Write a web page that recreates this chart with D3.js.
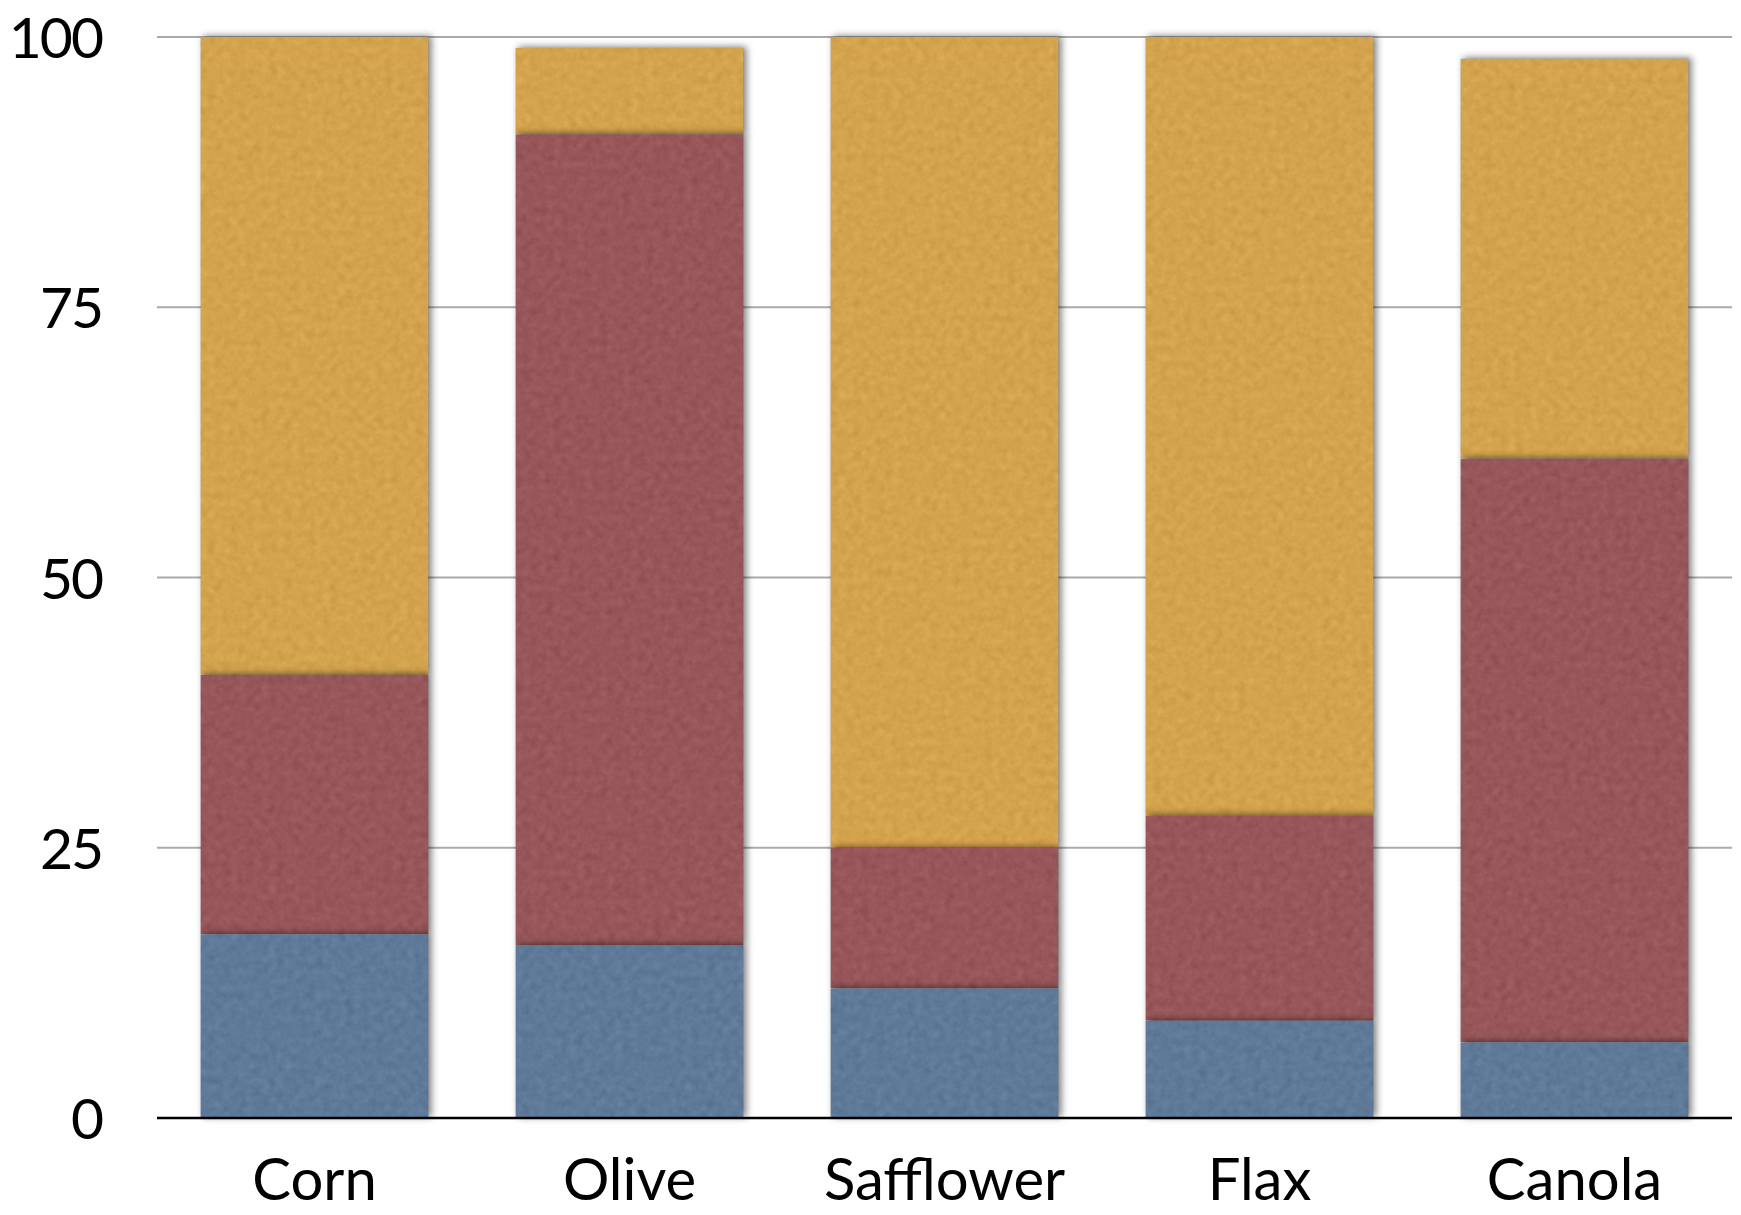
<!DOCTYPE html>
<html>
<head>
<meta charset="utf-8">
<script src="https://cdn.jsdelivr.net/npm/d3@7"></script>
<style>
  html, body { margin: 0; padding: 0; background: #fff; }
  svg { display: block; }
  text { font-family: Lato, "Open Sans", sans-serif; fill: #000; }
</style>
</head>
<body>
<svg id="chart" width="1741" height="1215"></svg>
<script>
// Fatty acid composition of cooking oils (percent)
const categories = ["Corn", "Olive", "Safflower", "Flax", "Canola"];
const saturated       = [17, 16, 12, 9, 7];
const monounsaturated = [24, 75, 13, 19, 54];
const polyunsaturated = [59, 8, 75, 72, 37];
const seriesNames = ["saturated", "monounsaturated", "polyunsaturated"];
const seriesColors = ["#5f7a99", "#97575a", "#d4a34d"];
const yTicks = [0, 25, 50, 75, 100];

const rows = categories.map((c, i) => ({
  category: c,
  saturated: saturated[i],
  monounsaturated: monounsaturated[i],
  polyunsaturated: polyunsaturated[i]
}));

const W = 1741, H = 1215;
const margin = { left: 157, right: 9, top: 37, bottom: 97 };

const svg = d3.select("#chart");

const x = d3.scaleBand()
  .domain(categories)
  .range([margin.left, W - margin.right])
  .paddingInner(0.276)
  .paddingOuter(0.138);

const y = d3.scaleLinear()
  .domain([0, 100])
  .range([H - margin.bottom, margin.top]);

// Paper-like texture plus soft shadow for each bar segment
const defs = svg.append("defs");
const f = defs.append("filter")
  .attr("id", "seg")
  .attr("filterUnits", "userSpaceOnUse")
  .attr("x", 0).attr("y", 0).attr("width", W).attr("height", H)
  .attr("color-interpolation-filters", "sRGB");
f.append("feTurbulence")
  .attr("type", "fractalNoise").attr("baseFrequency", 0.13)
  .attr("numOctaves", 3).attr("seed", 7).attr("result", "noise");
f.append("feColorMatrix")
  .attr("in", "noise").attr("type", "matrix")
  .attr("values", "0.33 0.33 0.33 0 0  0.33 0.33 0.33 0 0  0.33 0.33 0.33 0 0  0 0 0 0 1")
  .attr("result", "gray");
f.append("feGaussianBlur")
  .attr("in", "gray").attr("stdDeviation", 0.6).attr("result", "graySoft");
f.append("feComposite")
  .attr("in", "SourceGraphic").attr("in2", "graySoft")
  .attr("operator", "arithmetic")
  .attr("k1", 0).attr("k2", 1).attr("k3", 0.16).attr("k4", -0.08)
  .attr("result", "tex");
f.append("feComposite")
  .attr("in", "tex").attr("in2", "SourceGraphic")
  .attr("operator", "in").attr("result", "texClip");
f.append("feGaussianBlur")
  .attr("in", "SourceAlpha").attr("stdDeviation", 3.5).attr("result", "blur");
f.append("feOffset")
  .attr("in", "blur").attr("dx", 2.5).attr("dy", -1.5).attr("result", "off");
f.append("feFlood")
  .attr("flood-color", "#000").attr("flood-opacity", 0.5).attr("result", "flood");
f.append("feComposite")
  .attr("in", "flood").attr("in2", "off").attr("operator", "in").attr("result", "shadow");
const merge = f.append("feMerge");
merge.append("feMergeNode").attr("in", "shadow");
merge.append("feMergeNode").attr("in", "texClip");

// Gridlines
svg.append("g")
  .selectAll("line")
  .data(yTicks.filter(d => d > 0))
  .join("line")
  .attr("x1", margin.left).attr("x2", W - margin.right)
  .attr("y1", d => y(d)).attr("y2", d => y(d))
  .attr("stroke", "#aaaaaa").attr("stroke-width", 2);

// Stacked bars
const stack = d3.stack().keys(seriesNames);
const layers = stack(rows);

const color = d3.scaleOrdinal().domain(seriesNames).range(seriesColors);

// draw top layer first so lower segments cast their shadow onto the segment above
svg.append("g")
  .selectAll("g")
  .data(layers.slice().reverse())
  .join("g")
  .attr("fill", d => color(d.key))
  .selectAll("rect")
  .data(d => d)
  .join("rect")
  .attr("x", d => x(d.data.category))
  .attr("width", x.bandwidth())
  .attr("y", d => y(d[1]))
  .attr("height", d => y(d[0]) - y(d[1]))
  .attr("filter", "url(#seg)");

// Baseline
svg.append("line")
  .attr("x1", margin.left).attr("x2", W - margin.right)
  .attr("y1", y(0)).attr("y2", y(0))
  .attr("stroke", "#000").attr("stroke-width", 2.5);

// Y axis labels
const yAxis = d3.axisLeft(y).tickValues(yTicks).tickSize(0).tickPadding(0);
const yg = svg.append("g")
  .attr("transform", `translate(${margin.left - 55},0)`)
  .call(yAxis);
yg.select(".domain").remove();
yg.selectAll("text")
  .attr("font-size", 57)
  .attr("font-family", "Lato, sans-serif")
  .attr("letter-spacing", -2)
  .attr("fill", "#000")
  .attr("dy", "0.36em");

// X axis labels
const xAxis = d3.axisBottom(x).tickSize(0).tickPadding(0);
const xg = svg.append("g")
  .attr("transform", `translate(0,${y(0)})`)
  .call(xAxis);
xg.select(".domain").remove();
xg.selectAll("text")
  .attr("font-size", 58)
  .attr("font-family", "Lato, sans-serif")
  .attr("fill", "#000")
  .attr("dy", null)
  .attr("y", 82);
</script>
</body>
</html>
